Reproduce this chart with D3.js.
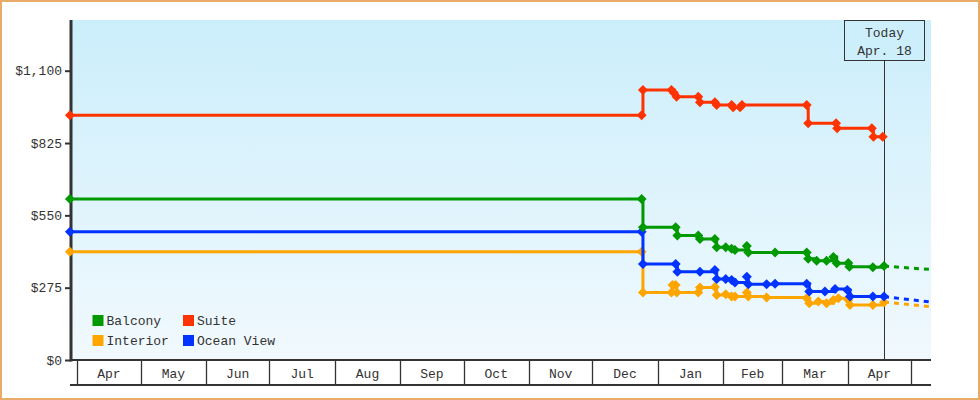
<!DOCTYPE html>
<html><head><meta charset="utf-8">
<script src="https://cdn.jsdelivr.net/npm/d3@7"></script>
<style>
body{margin:0;background:#fff}
svg{display:block}
text{font-family:"Liberation Mono","DejaVu Sans Mono",monospace;font-size:13px;fill:#333}
</style>
</head><body><svg id="chart" width="980" height="400"></svg>
<script>
// ---------- DATA ----------
const categories = ["Balcony", "Suite", "Interior", "Ocean View"];
const colors = ["#009900", "#ff3300", "#ffa500", "#0033ff"];
const yTicks = [0, 275, 550, 825, 1100];
const monthLabels = ["Apr","May","Jun","Jul","Aug","Sep","Oct","Nov","Dec","Jan","Feb","Mar","Apr"];
const todayDate = "2023-04-18 00";
const todayLabel = ["Today", "Apr. 18"];
const projectionEnd = "2023-05-10 12";
const projectedValues = [344, null, 203, 220]; // by category

const balcony = [
  ["2022-03-28 12", 612], ["2022-12-24 09", 612], ["2022-12-25 00", 505], ["2023-01-09 12", 505],
  ["2023-01-10 07", 473], ["2023-01-20 05", 473], ["2023-01-21 00", 460], ["2023-01-28 02", 460],
  ["2023-01-28 22", 429], ["2023-02-02 05", 429], ["2023-02-05 00", 423], ["2023-02-06 14", 418],
  ["2023-02-12 05", 433], ["2023-02-12 22", 409], ["2023-02-25 14", 409], ["2023-03-12 14", 409],
  ["2023-03-13 07", 385], ["2023-03-17 07", 377], ["2023-03-22 00", 377], ["2023-03-25 05", 392],
  ["2023-03-26 19", 368], ["2023-04-01 07", 369], ["2023-04-01 19", 355], ["2023-04-12 22", 353],
  ["2023-04-18 05", 357]
];
const suite = [
  ["2022-03-28 12", 931], ["2022-12-24 09", 931], ["2022-12-25 00", 1027], ["2023-01-07 12", 1027],
  ["2023-01-08 17", 1015], ["2023-01-09 22", 1001], ["2023-01-20 05", 1001], ["2023-01-21 00", 980],
  ["2023-01-28 02", 980], ["2023-01-28 22", 970], ["2023-02-05 00", 970], ["2023-02-05 17", 961],
  ["2023-02-09 00", 961], ["2023-02-09 22", 970], ["2023-03-12 14", 970], ["2023-03-13 07", 900],
  ["2023-03-26 12", 900], ["2023-03-27 00", 881], ["2023-04-12 10", 881], ["2023-04-13 05", 849],
  ["2023-04-17 14", 849]
];
const interior = [
  ["2022-03-28 12", 412], ["2022-12-24 09", 412], ["2022-12-25 00", 257], ["2023-01-07 12", 257],
  ["2023-01-08 00", 285], ["2023-01-09 12", 285], ["2023-01-10 00", 257], ["2023-01-20 05", 257],
  ["2023-01-21 00", 276], ["2023-01-28 02", 278], ["2023-01-28 22", 247], ["2023-02-02 05", 250],
  ["2023-02-05 00", 241], ["2023-02-06 14", 241], ["2023-02-12 05", 257], ["2023-02-12 22", 241],
  ["2023-02-21 14", 238], ["2023-03-12 14", 235], ["2023-03-13 19", 216], ["2023-03-18 02", 222],
  ["2023-03-22 00", 216], ["2023-03-25 05", 228], ["2023-03-27 14", 235], ["2023-04-01 07", 228],
  ["2023-04-02 02", 209], ["2023-04-12 22", 209], ["2023-04-18 05", 220]
];
const oceanView = [
  ["2022-03-28 12", 488], ["2022-12-24 09", 488], ["2022-12-25 00", 365], ["2023-01-09 12", 365],
  ["2023-01-10 07", 336], ["2023-01-21 00", 336], ["2023-01-28 02", 342], ["2023-01-28 22", 308],
  ["2023-02-02 05", 308], ["2023-02-05 00", 304], ["2023-02-06 14", 295], ["2023-02-12 05", 317],
  ["2023-02-12 22", 288], ["2023-02-21 14", 288], ["2023-02-25 14", 290], ["2023-03-12 14", 290],
  ["2023-03-13 19", 260], ["2023-03-21 05", 260], ["2023-03-26 00", 270], ["2023-03-31 19", 266],
  ["2023-04-02 02", 241], ["2023-04-12 22", 241], ["2023-04-18 05", 241]
];
const seriesValues = [balcony, suite, interior, oceanView];

// ---------- CHART ----------
const parse = d3.utcParse("%Y-%m-%d %H");
const svg = d3.select("#chart");
const L = 71, R = 931, T = 20, B = 360;

const x = d3.scaleUtc()
  .domain([parse("2022-04-01 00"), parse("2023-04-01 00")])
  .range([77.3, 847.7]);
const y = d3.scaleLinear().domain([0, 1100]).range([B, 70.7]);

const defs = svg.append("defs");
const grad = defs.append("linearGradient").attr("id", "bg").attr("x1", 0).attr("y1", 0).attr("x2", 0).attr("y2", 1);
grad.append("stop").attr("offset", "0%").attr("stop-color", "#cbeefb");
grad.append("stop").attr("offset", "100%").attr("stop-color", "#f1f9fe");

svg.append("rect").attr("x", L).attr("y", T).attr("width", R - L).attr("height", B - T).attr("fill", "url(#bg)");

// y axis
const yAxis = svg.append("g").attr("transform", `translate(${L},0)`)
  .call(d3.axisLeft(y).tickValues(yTicks).tickFormat(d => "$" + d3.format(",")(d)).tickSize(6).tickPadding(3));
yAxis.select(".domain").remove();
yAxis.selectAll(".tick line").attr("stroke", "#333").attr("stroke-width", 2);
yAxis.selectAll(".tick text").style("font-size", "13px").style("font-family", null).attr("fill", "#333");

// x axis month bands
const months = d3.utcMonths(parse("2022-04-01 00"), parse("2023-05-02 00"));
const xg = svg.append("g");
xg.selectAll("line.sep").data(months).join("line").attr("class", "sep")
  .attr("x1", d => Math.round(x(d)) + 0.5).attr("x2", d => Math.round(x(d)) + 0.5)
  .attr("y1", B).attr("y2", 385).attr("stroke", "#333").attr("stroke-width", 1.3);
xg.selectAll("text").data(monthLabels).join("text")
  .attr("x", (d, i) => (x(months[i]) + x(months[i + 1])) / 2)
  .attr("y", 373).attr("dy", "0.35em").attr("text-anchor", "middle").text(d => d);
xg.append("line").attr("x1", L - 1).attr("x2", R).attr("y1", B).attr("y2", B).attr("stroke", "#333").attr("stroke-width", 2);
xg.append("line").attr("x1", L - 1).attr("x2", R).attr("y1", 385).attr("y2", 385).attr("stroke", "#333").attr("stroke-width", 2);

svg.append("line").attr("x1", L).attr("x2", L).attr("y1", T).attr("y2", B + 1.5)
  .attr("stroke", "#333").attr("stroke-width", 3);

// today marker
const tx = Math.round(x(parse(todayDate))) + 0.5;
svg.append("line").attr("x1", tx).attr("x2", tx).attr("y1", 60.5).attr("y2", B).attr("stroke", "#333").attr("stroke-width", 1);
svg.append("rect").attr("x", tx - 40).attr("y", 20.5).attr("width", 80).attr("height", 40)
  .attr("fill", "#cdeffc").attr("stroke", "#333").attr("stroke-width", 1);
svg.append("text").attr("x", tx).attr("y", 32.5).attr("dy", "0.35em").attr("text-anchor", "middle").text(todayLabel[0]);
svg.append("text").attr("x", tx).attr("y", 50.5).attr("dy", "0.35em").attr("text-anchor", "middle").text(todayLabel[1]);

// series
const line = d3.line().x(d => x(parse(d[0]))).y(d => y(d[1])).curve(d3.curveStepAfter);
const drawOrder = [2, 3, 0, 1];
const diamond = "M0,-5L5,0L0,5L-5,0Z";
drawOrder.forEach(i => {
  const data = seriesValues[i];
  const g = svg.append("g");
  if (projectedValues[i] != null) {
    const last = data[data.length - 1];
    g.append("path").datum([last, [projectionEnd, projectedValues[i]]])
      .attr("d", d3.line().x(d => x(parse(d[0]))).y(d => y(d[1])))
      .attr("fill", "none").attr("stroke", colors[i]).attr("stroke-width", 3).attr("stroke-dasharray", "5,5");
  }
  g.append("path").datum(data).attr("d", line)
    .attr("fill", "none").attr("stroke", colors[i]).attr("stroke-width", 3);
  g.selectAll("path.pt").data(data).join("path").attr("class", "pt")
    .attr("d", diamond)
    .attr("transform", d => `translate(${x(parse(d[0]))},${y(d[1])})`)
    .attr("fill", colors[i]);
});

// legend
const legendPos = [[92.5, 315], [183, 315], [92.5, 335], [183, 335]];
const lg = svg.append("g");
categories.forEach((c, i) => {
  lg.append("rect").attr("x", legendPos[i][0]).attr("y", legendPos[i][1]).attr("width", 11).attr("height", 11).attr("fill", colors[i]);
  lg.append("text").attr("x", legendPos[i][0] + 14).attr("y", legendPos[i][1] + 5.5).attr("dy", "0.35em").text(c);
});

// outer border
svg.append("rect").attr("x", 1).attr("y", 1).attr("width", 978).attr("height", 398)
  .attr("fill", "none").attr("stroke", "#e8ab6a").attr("stroke-width", 2);
</script></body></html>
